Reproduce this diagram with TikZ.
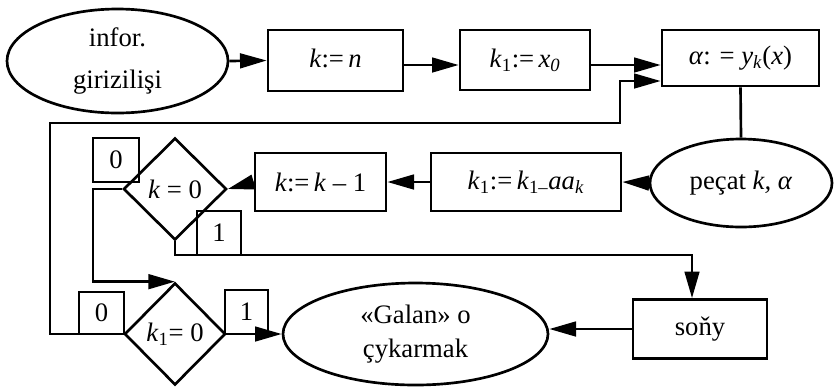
\documentclass[tikz,border=0pt]{standalone}
\usepackage{fontspec}
\setmainfont{Liberation Serif}
\usetikzlibrary{shapes.geometric,arrows.meta,calc}
\begin{document}
\begin{tikzpicture}[x=0.75pt,y=-0.75pt,
  every node/.style={font=\fontsize{20pt}{24pt}\selectfont, inner sep=0pt, align=center},
  box/.style={draw, rectangle, line width=2pt},
  oval/.style={draw, ellipse, line width=2pt},
  dia/.style={draw, diamond, aspect=1, line width=2pt},
  line/.style={line width=2pt},
  arr/.style={line width=2pt, -{Triangle[length=20pt,width=11pt]}}
]
\useasboundingbox (0,0) rectangle (834,387);

% top row
\node[oval, minimum width={221*0.75pt}, minimum height={104*0.75pt}] (start) at (117.5,61)
  {infor.\\[8pt]girizilişi};
\node[box, minimum width={135*0.75pt}, minimum height={61*0.75pt}] (n1) at (335.5,60.5)
  {\raisebox{3pt}{\textit{k}:=\,\textit{n}}};
\node[box, minimum width={130*0.75pt}, minimum height={60*0.75pt}] (n2) at (525,60)
  {\raisebox{3pt}{\textit{k}\textsubscript{1}:=\,\textit{x}\textsubscript{\textit{0}}}};
\node[box, minimum width={157*0.75pt}, minimum height={56*0.75pt}] (n3) at (740.5,58)
  {\raisebox{3pt}{\textit{α}: = \textit{y}\textsubscript{\textit{k}}(\textit{x})}};

% middle row
\node[oval, minimum width={182*0.75pt}, minimum height={88*0.75pt}] (pecat) at (741,183)
  {peçat \textit{k, α}};
\node[box, minimum width={190*0.75pt}, minimum height={58*0.75pt}] (n4) at (526,182)
  {\textit{k}\textsubscript{1}:=\,\textit{k}\textsubscript{1–}\textit{aa}\textsubscript{\textit{k}}};
\node[box, minimum width={131*0.75pt}, minimum height={58*0.75pt}] (n5) at (320.5,182)
  {\textit{k}:=\,\textit{k} – 1};
\node[dia, minimum width={103*0.75pt}, minimum height={102*0.75pt}] (d1) at (175,189)
  {\textit{k} = 0};
\node[box, minimum width={46*0.75pt}, minimum height={44*0.75pt}] (z1) at (116,160) {0};
\node[box, minimum width={44*0.75pt}, minimum height={44*0.75pt}] (o1) at (219,233) {1};

% bottom row
\node[dia, minimum width={101*0.75pt}, minimum height={102*0.75pt}] (d2) at (175,334)
  {\textit{k}\textsubscript{1}= 0};
\node[box, minimum width={45*0.75pt}, minimum height={42*0.75pt}] (z2) at (101.5,313) {0};
\node[box, minimum width={43*0.75pt}, minimum height={44*0.75pt}] (o2) at (246.5,312) {1};
\node[oval, minimum width={265*0.75pt}, minimum height={102*0.75pt}] (galan) at (415.5,334)
  {«Galan» o\\[1pt]çykarmak};
\node[box, minimum width={134*0.75pt}, minimum height={59*0.75pt}] (sony) at (700,329)
  {soňy};

% helper coordinates
\coordinate (ytop) at (0,65);
\coordinate (yfb) at (0,81);
\coordinate (fbtop) at (620,123);
\coordinate (fbleft) at (50,123);
\coordinate (c1) at (93,0);
\coordinate (c2) at (692,255);

% connectors
\draw[arr] (start.east) -- (n1.west);
\draw[arr] (n1.east |- ytop) -- (n2.west |- ytop);
\draw[arr] (n2.east |- ytop) -- (n3.west |- ytop);
\draw[arr] (d2.west) -- (d2.west -| fbleft) -- (fbleft) -- (fbtop) -- (fbtop |- yfb) -- (n3.west |- yfb);
\draw[line] (n3.south) -- (pecat.north);
\draw[arr] (pecat.west) -- (n4.east);
\draw[arr] (n4.west) -- (n5.east);
\draw[arr] (n5.west) -- (d1.east);
\draw[arr] (d1.south) -- (d1.south |- c2) -- (c2) -- (c2 |- sony.north);
\draw[arr] (d1.west) -- (d1.west -| c1) -- (c1 |- d2.north) -- (d2.north);
\draw[arr] (d2.east) -- (galan.west);
\draw[arr] (sony.west) -- (galan.east |- sony.west);
\end{tikzpicture}
\end{document}
